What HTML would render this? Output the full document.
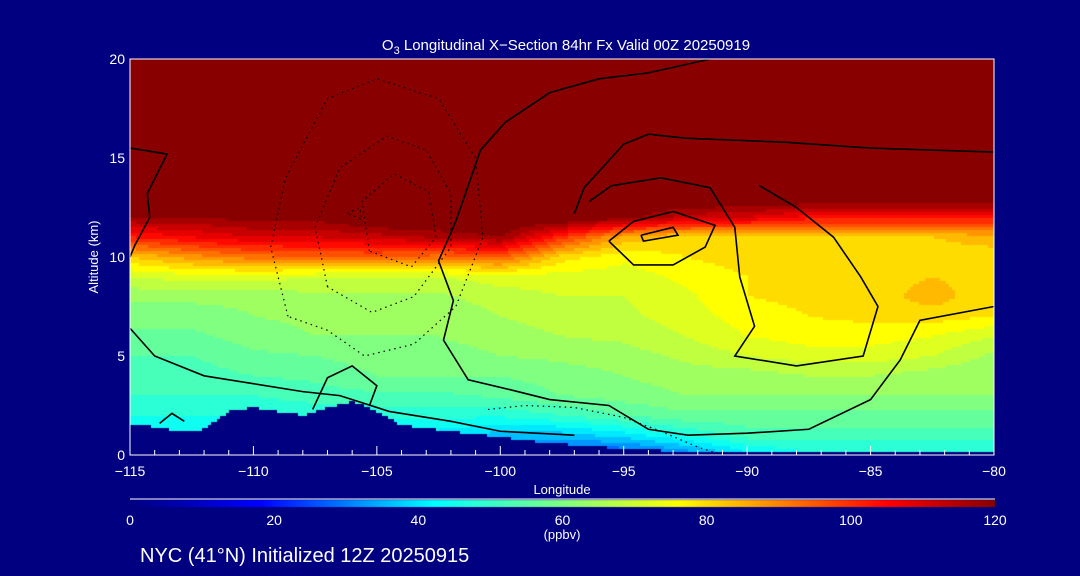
<!DOCTYPE html>
<html><head><meta charset="utf-8"><style>
body{margin:0;background:#000080;width:1080px;height:576px;overflow:hidden;font-family:"Liberation Sans",sans-serif}
#wrap{position:relative;width:1080px;height:576px}
canvas,svg{position:absolute;left:0;top:0}
</style></head><body>
<div id="wrap">
<canvas id="cv" width="1080" height="576"></canvas>
<svg id="sv" width="1080" height="576"></svg>
</div>
<script>
const lons=[-115,-112.5,-110,-107.5,-105,-102.5,-100,-97.5,-95,-92.5,-90,-87.5,-85,-82.5,-80];
const alts=[0,1,2,3,4,5,6,7,8,9,10,11,12,13,20];
const ozone=[
[38,38,38,38,38,36,30,25,24,30,40,45,45,45,45],
[42,42,42,42,42,40,36,36,40,46,52,52,52,52,52],
[46,46,46,47,47,47,47,50,54,57,57,57,57,57,57],
[50,50,50,52,53,53,55,58,60,62,62,62,62,62,62],
[52,52,54,55,58,58,58,60,62,64,64,66,66,64,62],
[54,54,57,58,60,60,62,63,64,67,70,72,72,70,65],
[57,57,60,62,62,62,64,66,67,70,74,76,76,74,70],
[60,60,62,63,63,63,66,68,69,72,76,78,79,80,78],
[63,63,63,65,65,65,68,70,70,73,78,79,80,84,79],
[70,72,72,70,70,70,72,72,72,75,78,79,80,82,80],
[82,88,92,94,94,92,95,80,75,78,80,80,80,80,80],
[102,106,110,110,112,115,118,100,85,80,80,82,82,82,84],
[118,118,120,120,125,125,125,125,120,112,110,104,104,104,104],
[125,125,125,125,125,125,125,125,125,125,125,125,125,125,125],
[125,125,125,125,125,125,125,125,125,125,125,125,125,125,125]];
const terrainLon=[-115,-114,-113,-112,-111,-110,-109,-108,-107,-106,-105.3,-104,-102,-100,-98,-96,-94,-92,-90,-85,-80];
const terrainAlt=[1.6,1.4,1.2,1.3,2.2,2.4,2.2,2.0,2.4,2.7,2.4,1.5,1.2,0.9,0.6,0.4,0.25,0.15,0.1,0.1,0.1];
const solidContours=[
[[-101.8,11.8],[-100.8,15.4],[-99.8,16.8],[-98,18.3],[-96,19],[-94,19.3],[-91.5,20]],
[[-101.8,11.8],[-102.5,9.8],[-101.9,7.8],[-102.3,5.8],[-101.3,3.8],[-99.6,3.3],[-98,2.8],[-95.6,2.5],[-94,1.3],[-92.4,1],[-90,1.1],[-87.5,1.3],[-85,2.8],[-83.8,4.8],[-83,6.8],[-80,7.5]],
[[-97,12.2],[-96.6,13.5],[-95,15.7],[-94,16.2],[-92.5,16],[-88.5,15.8],[-85,15.5],[-80,15.3]],
[[-96.4,12.8],[-95.5,13.6],[-93.5,14],[-91.5,13.5],[-90.5,11.5],[-90.3,9],[-89.7,6.5],[-90.5,5],[-88,4.5],[-85.3,5],[-84.7,7.5],[-85.4,9],[-86.5,11],[-88,12.5],[-89.5,13.6]],
[[-95.6,10.8],[-94.6,11.8],[-93,12.3],[-91.3,11.6],[-91.7,10.5],[-93,9.6],[-94.6,9.6],[-95.6,10.8]],
[[-94.3,11.1],[-93,11.5],[-92.8,11.1],[-94.2,10.8],[-94.3,11.1]],
[[-115,15.5],[-113.5,15.2],[-114.3,13.2],[-114.2,12],[-114.8,10.6],[-115,10]],
[[-115,6.4],[-114,5],[-112,4],[-110,3.6],[-108,3.2],[-106.5,3],[-105.5,2.6],[-104.5,2.2],[-102,1.7],[-100,1.2],[-97,1]],
[[-107.6,2.3],[-107,3.9],[-106,4.5],[-105,3.5],[-105.3,2.5]],
[[-113.8,1.6],[-113.3,2.1],[-112.8,1.7]]];
const dottedContours=[
[[-108.6,7],[-109.3,10.5],[-108.7,14],[-107,18],[-105,19],[-102.5,18],[-101,15],[-100.7,11],[-101.8,7.5],[-103.5,5.6],[-105.5,5],[-107,6.3],[-108.6,7]],
[[-107,8.5],[-107.5,11.5],[-106.5,14.5],[-104.6,16.1],[-103,15.4],[-102,13.2],[-102,10.5],[-103.5,8],[-105.2,7.2],[-107,8.5]],
[[-105.3,10.3],[-105.6,12.8],[-104.3,14.2],[-102.9,13.3],[-102.6,11],[-103.6,9.5],[-105.3,10.3]],
[[-106.2,12.2],[-105.7,12.5],[-105.6,11.9],[-106.2,12.2]],
[[-100.5,2.3],[-99,2.5],[-97,2.4],[-95,1.9],[-93.5,1.2],[-92,0.4],[-91,0]]];
const xTicks=[-115,-110,-105,-100,-95,-90,-85,-80];
const yTicks=[0,5,10,15,20];
const cbTicks=[0,20,40,60,80,100,120];

const X0=130,X1=994,Y0=455,Y1=59;
const xs=l=>X0+(l+115)/35*(X1-X0);
const ys=a=>Y0-a/20*(Y0-Y1);
const cbx=v=>130+v/120*(995-130);
const stops=[[0,[0,0,128]],[18,[0,0,255]],[42,[0,255,255]],[60,[128,255,128]],[76,[255,255,0]],[105,[255,0,0]],[120,[136,0,0]]];
function cmap(v){v=Math.max(0,Math.min(120,v));for(let i=1;i<stops.length;i++){if(v<=stops[i][0]){const a=stops[i-1],b=stops[i],t=(v-a[0])/(b[0]-a[0]);return 'rgb('+a[1].map((c,k)=>Math.round(c+(b[1][k]-c)*t)).join(',')+')';}}return 'rgb(136,0,0)';}
function interp(arr,v){for(let i=1;i<arr.length;i++){if(v<=arr[i])return [i-1,(v-arr[i-1])/(arr[i]-arr[i-1])];}return [arr.length-2,1];}
function field(lon,alt){const [i,ti]=interp(lons,lon),[j,tj]=interp(alts,alt);const a=ozone[j][i],b=ozone[j][i+1],c=ozone[j+1][i],d=ozone[j+1][i+1];return (a*(1-ti)+b*ti)*(1-tj)+(c*(1-ti)+d*ti)*tj;}
function terr(lon){const [i,t]=interp(terrainLon,lon);return terrainAlt[i]*(1-t)+terrainAlt[i+1]*t;}
const cv=document.getElementById('cv'),g=cv.getContext('2d');
const S=3;
for(let px=X0;px<X1;px+=S){for(let py=Y1;py<Y0;py+=S){const lon=-115+(px+S/2-X0)/(X1-X0)*35,alt=(Y0-py-S/2)/(Y0-Y1)*20;let v=field(lon,alt);v=Math.round(v/4)*4;g.fillStyle=alt<terr(lon)?'#000080':cmap(v);g.fillRect(px,py,S,S);}}
for(let px=130;px<995;px++){g.fillStyle=cmap((px-130)/865*120);g.fillRect(px,500,1,7);}
const NS='http://www.w3.org/2000/svg',sv=document.getElementById('sv');
function mk(t,at,name){const e=document.createElementNS(NS,t);for(const k in at)e.setAttribute(k,at[k]);


sv.appendChild(e);return e;}
solidContours.forEach((c,i)=>{mk('polyline',{points:c.map(p=>xs(p[0])+','+ys(p[1])).join(' '),fill:'none',stroke:'#000','stroke-width':1.6},'contour-positive-'+i);});
dottedContours.forEach((c,i)=>{mk('polyline',{points:c.map(p=>xs(p[0])+','+ys(p[1])).join(' '),fill:'none',stroke:'#000','stroke-width':1.2,'stroke-dasharray':'1.5 4'},'contour-negative-'+i);});
mk('path',{d:`M${X0} ${Y1}H${X1}V${Y0}H${X0}Z`,fill:'none',stroke:'#fff','stroke-width':1},'plot-frame');
mk('line',{x1:130,y1:499,x2:995,y2:499,stroke:'#fff','stroke-width':1},'colorbar-line');
for(let l=-115;l<=-80;l++){const maj=l%5===0;mk('line',{x1:xs(l),y1:Y0,x2:xs(l),y2:Y0-(maj?9:5),stroke:'#fff'},'x-tick');}
xTicks.forEach(l=>{const t=mk('text',{x:xs(l),y:476,fill:'#fff','font-size':14,'text-anchor':'middle'},'x-tick-label');t.textContent=(l<0?'\u2212':'')+Math.abs(l);});
yTicks.forEach(a=>{const t=mk('text',{x:125,y:ys(a)+5,fill:'#fff','font-size':14,'text-anchor':'end'},'y-tick-label');t.textContent=a;});
cbTicks.forEach(v=>{const t=mk('text',{x:cbx(v),y:525,fill:'#fff','font-size':14,'text-anchor':'middle'},'colorbar-tick-label');t.textContent=v;});
let t=mk('text',{x:562,y:539,fill:'#fff','font-size':13,'text-anchor':'middle'},'colorbar-unit');t.textContent='(ppbv)';
t=mk('text',{x:562,y:494,fill:'#fff','font-size':13,'text-anchor':'middle'},'x-axis-title');t.textContent='Longitude';
t=mk('text',{x:98,y:257,fill:'#fff','font-size':13,'text-anchor':'middle',transform:'rotate(-90 98 257)'},'y-axis-title');t.textContent='Altitude (km)';
t=mk('text',{x:566,y:50,fill:'#fff','font-size':15,'text-anchor':'middle'},'chart-title');t.innerHTML='O<tspan dy="4" font-size="11">3</tspan><tspan dy="-4"> Longitudinal X\u2212Section 84hr  Fx Valid 00Z 20250919</tspan>';
t=mk('text',{x:140,y:562,fill:'#fff','font-size':20},'init-info');t.textContent='NYC (41\u00b0N) Initialized 12Z 20250915';
</script>
</body></html>
